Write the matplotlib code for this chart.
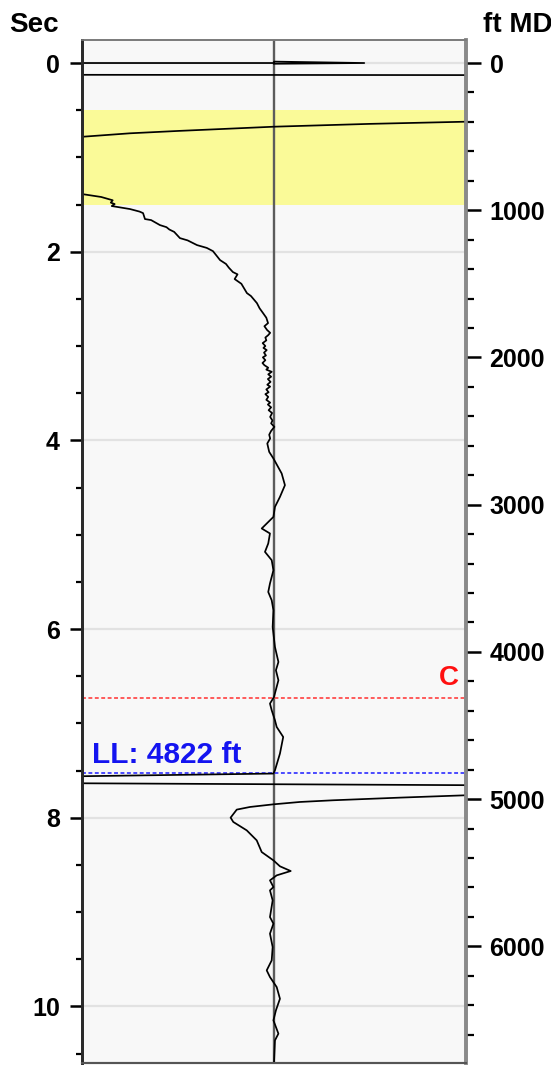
import matplotlib
matplotlib.use("Agg")
import matplotlib.pyplot as plt
from matplotlib.ticker import MultipleLocator

# ft MD per second of two-way time on the right axis
FT_PER_SEC = 640.8
SEC_TOP = -0.244
SEC_BOTTOM = 10.60

# main log curve (amplitude, sec)
trace_amp = [-1.0, -0.90, -0.84, -0.85, -0.83, -0.845, -0.75, -0.70, -0.682, -0.672,
             -0.64, -0.594, -0.56, -0.545, -0.52, -0.49, -0.45, -0.401, -0.35, -0.318,
             -0.30, -0.281, -0.25, -0.235, -0.214, -0.19, -0.205, -0.17, -0.141, -0.12,
             -0.089, -0.075, -0.057, -0.04, -0.031, -0.05, -0.036,
             -0.020, -0.030, -0.045, -0.040, -0.059, -0.045, -0.055, -0.038, -0.052, -0.042,
             -0.058, -0.045, -0.060, -0.050, -0.030, -0.040, -0.012, -0.030, -0.015, -0.032,
             -0.018, -0.035, -0.020, -0.040, -0.028, -0.045, -0.030, -0.040, -0.020, -0.032,
             -0.015, -0.028, -0.010, -0.020, -0.008, -0.015, 0.002, -0.015, -0.025, -0.020,
             -0.035, -0.025, -0.003, 0.040, 0.057, 0.031, 0.005,
             -0.003, -0.064, -0.021, -0.030, -0.047, -0.012, -0.003, -0.021, -0.030, -0.012,
             -0.003, -0.007, 0.005, 0.023,
             0.010, 0.023, 0.0, -0.021, -0.012, 0.005, 0.014, 0.048, 0.031, 0.005, -0.003, -1.0]
trace_sec = [1.389, 1.420, 1.455, 1.480, 1.495, 1.516, 1.548, 1.575, 1.591, 1.654,
             1.665, 1.718, 1.740, 1.765, 1.790, 1.856, 1.880, 1.930, 1.960, 1.994,
             2.040, 2.089, 2.130, 2.170, 2.216, 2.240, 2.290, 2.340, 2.439, 2.470,
             2.545, 2.600, 2.651, 2.700, 2.757, 2.790, 2.830,
             2.860, 2.884, 2.910, 2.940, 2.969, 3.000, 3.020, 3.043, 3.070, 3.100,
             3.120, 3.150, 3.180, 3.203, 3.230, 3.250, 3.273, 3.300, 3.325, 3.350,
             3.380, 3.410, 3.430, 3.460, 3.490, 3.510, 3.539, 3.570, 3.600, 3.620,
             3.650, 3.680, 3.710, 3.751, 3.790, 3.820, 3.857, 3.900, 3.940, 3.980,
             4.033, 4.122, 4.192, 4.351, 4.475, 4.599, 4.705,
             4.811, 4.934, 4.987, 5.093, 5.182, 5.270, 5.377, 5.517, 5.607, 5.695,
             5.801, 5.978, 6.190, 6.349,
             6.437, 6.543, 6.720, 6.790, 6.861, 6.967, 7.038, 7.144, 7.320, 7.497, 7.532, 7.56]

# curve below the lower limit
lower_amp = [1.0, 0.656, 0.309, 0.135, -0.003, -0.125, -0.194, -0.226, -0.212, -0.142,
             -0.090, -0.064, -0.003, 0.031, 0.087, 0.014, -0.021, -0.003, -0.021, -0.007,
             -0.021, -0.003, -0.021, -0.007, -0.012, -0.038, -0.021, 0.014, 0.031, 0.010,
             -0.003, 0.023, 0.005, 0.0]
lower_sec = [7.762, 7.787, 7.815, 7.833, 7.858, 7.886, 7.914, 7.999, 8.045, 8.134,
             8.240, 8.364, 8.452, 8.515, 8.565, 8.611, 8.664, 8.735, 8.770, 8.876,
             9.053, 9.123, 9.229, 9.371, 9.512, 9.618, 9.689, 9.795, 9.919, 10.042,
             10.148, 10.289, 10.36, 10.60]

# short pieces
top_amp = [-1.0, 0.0, 0.0, 0.47, 0.0]
top_sec = [0.0, 0.0, -0.015, 0.0, 0.008]
band_amp = [-1.0, -0.75, -0.5, 0.0, 0.5, 1.0]
band_sec = [0.782, 0.745, 0.72, 0.675, 0.645, 0.622]
cross_amp = [-1.0, 1.0]
cross_top_sec = [0.125, 0.128]
cross_low_sec = [7.635, 7.655]

yellow_zone = (0.5, 1.5)
marker_c_ft = 4310
ll_ft = 4822

sec_ticks = [0, 2, 4, 6, 8, 10]
ft_ticks = [0, 1000, 2000, 3000, 4000, 5000, 6000]

plt.rcParams['font.family'] = ['Liberation Sans', 'DejaVu Sans']
plt.rcParams['font.weight'] = 'bold'

fig = plt.figure(figsize=(5.51, 10.66), dpi=100)
ax = fig.add_axes([82/551, 3/1066, 384/551, 1023/1066])
ax.set_facecolor('#f8f8f8')

ax.axhspan(yellow_zone[0], yellow_zone[1], color='#fafa98', zorder=0.5, lw=0)
for s in sec_ticks:
    ax.axhline(s, color='#e2e2e2', lw=1.6, zorder=0.6)
ax.axvline(0, color='#5c5c5c', lw=1.7, zorder=1)

line_kw = dict(color='black', lw=1.25, zorder=3)
ax.plot(trace_amp, trace_sec, **line_kw)
ax.plot(lower_amp, lower_sec, **line_kw)
ax.plot(top_amp, top_sec, **line_kw)
ax.plot(band_amp, band_sec, **line_kw)
ax.plot(cross_amp, cross_top_sec, **line_kw)
ax.plot(cross_amp, cross_low_sec, **line_kw)

ax.axhline(marker_c_ft / FT_PER_SEC, color='#ff5a5a', lw=1.4, ls=(0, (2, 1.3)), zorder=2)
ax.axhline(ll_ft / FT_PER_SEC, color='#4a4aff', lw=1.4, ls=(0, (2, 1.3)), zorder=2)
ax.text(0.965, marker_c_ft / FT_PER_SEC - 0.13, 'C', color='#ff1010', fontsize=20,
        fontweight='bold', ha='right', va='baseline')
ax.text(-0.948, ll_ft / FT_PER_SEC - 0.105, 'LL: %d ft' % ll_ft, color='#1414f0',
        fontsize=21.5, fontweight='bold', ha='left', va='baseline')

ax.set_xlim(-1, 1)
ax.set_ylim(SEC_BOTTOM, SEC_TOP)
ax.set_xticks([])
ax.set_yticks(sec_ticks)
ax.yaxis.set_minor_locator(MultipleLocator(0.5))
ax.tick_params(axis='y', which='major', length=9, width=1.8, labelsize=18, pad=7, color='black')
ax.tick_params(axis='y', which='minor', length=4, width=1.6, color='black')

ax2 = ax.twinx()
ax2.set_ylim(SEC_BOTTOM * FT_PER_SEC, SEC_TOP * FT_PER_SEC)
ax2.set_yticks(ft_ticks)
ax2.yaxis.set_minor_locator(MultipleLocator(200))
ax2.tick_params(axis='y', which='major', length=11, width=1.8, labelsize=18, pad=6, color='black')
ax2.tick_params(axis='y', which='minor', length=6, width=1.6, color='black')

for a in (ax, ax2):
    a.spines['left'].set_color('#2a2a2a')
    a.spines['left'].set_linewidth(2.0)
    a.spines['right'].set_color('#8a8a8a')
    a.spines['right'].set_linewidth(2.6)
    a.spines['top'].set_color('#7a7a7a')
    a.spines['top'].set_linewidth(1.2)
    a.spines['bottom'].set_color('#555555')
    a.spines['bottom'].set_linewidth(1.5)

fig.text(9/551, 1 - 32/1066, 'Sec', fontsize=20, fontweight='bold', ha='left', va='baseline')
fig.text(483/551, 1 - 32/1066, 'ft MD', fontsize=20, fontweight='bold', ha='left', va='baseline')

fig.savefig('out.png', dpi=100)
